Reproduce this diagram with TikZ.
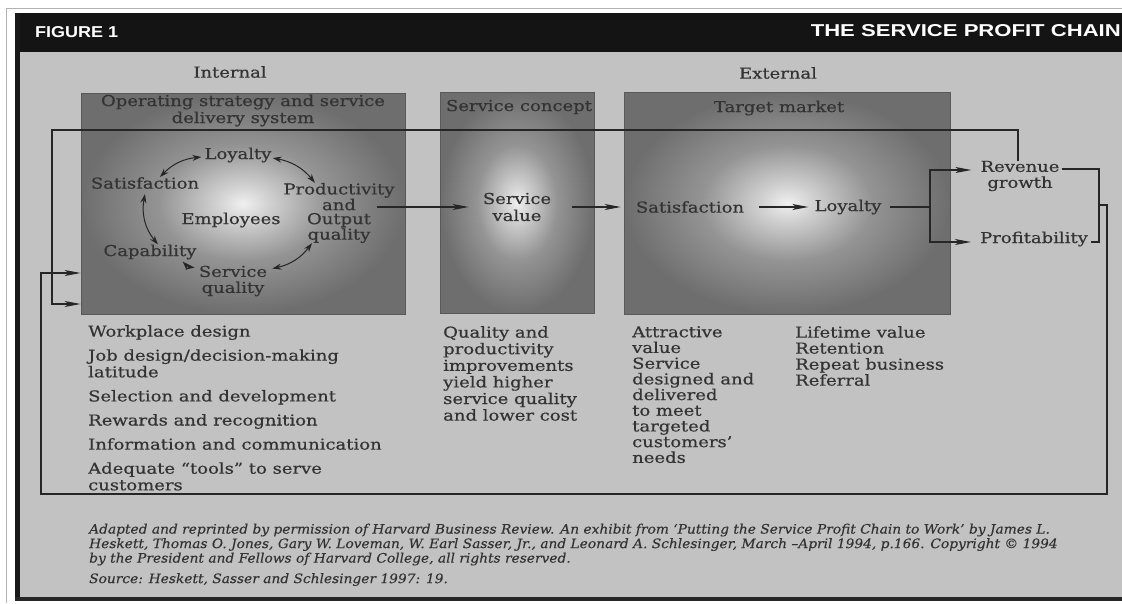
\documentclass[tikz,border=0pt]{standalone}
\usepackage{graphicx}
\usepackage{fontspec}
\setmainfont{DejaVu Serif}[FakeStretch=1.2,FakeBold=0.5]
\newfontfamily\headfont{Liberation Sans}
\newfontfamily\footfont{DejaVu Serif}[Ligatures=TeX,FakeStretch=1.06,FakeBold=0.3]
\usetikzlibrary{arrows.meta}
\definecolor{panelgray}{gray}{0.76}
\definecolor{glowA}{gray}{0.94}
\definecolor{glowB}{gray}{0.82}
\definecolor{glowC}{gray}{0.58}
\definecolor{glowD}{gray}{0.43}
\definecolor{inkgray}{gray}{0.2}
\pgfdeclareradialshading{glow}{\pgfpoint{0bp}{0bp}}{color(0bp)=(glowA); color(4bp)=(glowB); color(13bp)=(glowC); color(25bp)=(glowD); color(50bp)=(glowD)}
\begin{document}
\begin{tikzpicture}[x=1pt,y=-1pt,
 every node/.style={inner sep=0pt,text=inkgray},
 body/.style={font=\fontsize{15}{16.6}\selectfont},
 lst/.style={body,align=left,anchor=north west},
 box/.style={draw=black!65,line width=0.8pt,shade,shading=glow},
 wire/.style={draw=black!85,line width=1.1pt},
 arr/.style={wire,-{Stealth[length=16pt,width=6pt,inset=4pt]}},
 cyc/.style={draw=black!85,line width=1pt,{Stealth[length=9pt,width=6pt]}-{Stealth[length=9pt,width=6pt]}}
]
\useasboundingbox (0,0) rectangle (1122,603);
\fill[white] (0,0) rectangle (1122,603);
\draw[black!30,line width=1pt] (6,603) -- (6,8) -- (1122,8);
\fill[panelgray] (15,52) rectangle (1122,599);
\fill[black!92] (15,13) rectangle (1122,52);
\fill[black!90] (15,13) rectangle (20,601);
\fill[black!85] (15,597) rectangle (1122,601);

% header
\node[anchor=west,text=white] (fig) at (35,32.5) {\resizebox{83pt}{11pt}{\headfont\bfseries FIGURE 1}};
\node[anchor=east,text=white] (ttl) at (1121,31) {\resizebox{310pt}{12pt}{\headfont\bfseries THE SERVICE PROFIT CHAIN}};

% boxes
\node[box,minimum width=324pt,minimum height=221pt] (b1) at (243,203.5) {};
\node[box,minimum width=154pt,minimum height=221pt] (b2) at (517,202.5) {};
\node[box,minimum width=326pt,minimum height=222pt] (b3) at (787,203) {};

% titles
\node[body] (int) at (230,72) {Internal};
\node[body] (ext) at (778,73) {External};
\node[body,align=center,font=\fontsize{15}{17}\selectfont] (t1) at (243,110.5) {Operating strategy and service\\delivery system};
\node[body] (t2) at (519,107) {Service concept};
\node[body] (t3) at (779,108) {Target market};

% cycle
\node[body] (loy) at (238,155) {Loyalty};
\node[body] (sat) at (145,183) {Satisfaction};
\node[body,align=center,font=\fontsize{15}{14}\selectfont] (prod) at (339,213) {Productivity\\and\\Output\\quality};
\node[body] (emp) at (231,220) {Employees};
\node[body] (cap) at (150,252) {Capability};
\node[body,align=center,font=\fontsize{15}{16}\selectfont] (sq) at (233,281) {Service\\quality};

\draw[cyc] ([xshift=-3pt,yshift=-2pt]loy.west) to[bend right=20] ([xshift=15pt]sat.north);
\draw[cyc] ([xshift=1pt,yshift=-3pt]loy.east) to[bend left=20] ([xshift=-24pt]prod.north);
\draw[cyc] ([yshift=-5pt]sat.south) to[bend right=25] ([xshift=8pt]cap.north);
\draw[cyc] ([xshift=-14pt,yshift=-2pt]cap.south east) to[bend right=20] ([xshift=-4pt,yshift=-2pt]sq.north west);
\draw[cyc] ([xshift=5pt,yshift=-3pt]sq.north east) to[bend right=20] ([xshift=-27pt]prod.south);

% chain
\node[body,align=center,font=\fontsize{15}{17}\selectfont] (sv) at (517,207) {Service\\value};
\node[body] (sat2) at (690,207) {Satisfaction};
\node[body] (loy2) at (848,207) {Loyalty};
\node[body,align=center,font=\fontsize{15}{16}\selectfont] (rev) at (1020,176) {Revenue\\growth};
\node[body] (prof) at (1034,239) {Profitability};

\draw[arr,shorten >=14pt] ([xshift=-18pt,yshift=6pt]prod.east) -- (sv.west);
\draw[arr,shorten <=21pt,shorten >=15pt] (sv.east) -- (sat2.west);
\draw[arr,shorten <=15pt,shorten >=6pt] (sat2.east) -- (loy2.west);

\coordinate (fork) at (930,207);
\draw[wire,shorten <=8pt] (loy2.east) -- (fork);
\draw[arr,shorten >=9pt] (fork) |- ([yshift=6pt]rev.west);
\draw[arr,shorten >=9pt] (fork) |- ([yshift=-3pt]prof.west);

\coordinate (rb) at (1099,205);
\draw[wire] ([yshift=7pt,xshift=2pt]rev.east) -| (rb) |- ([yshift=-3pt,xshift=3pt]prof.east);

\coordinate (br) at (1107,494);
\coordinate (bl) at (41,494);
\draw[arr] (rb) -| (br) -- (bl) |- ([yshift=-69.5pt]b1.west);

\coordinate (tl) at (52,130);
\draw[arr] ([xshift=-2pt]rev.north) |- (tl) |- ([yshift=-100.5pt]b1.west);

% lists
\node[lst] (l1) at (88,325) {Workplace design\\[7.5pt] Job design/decision-making\\latitude\\[7.5pt] Selection and development\\[7.5pt] Rewards and recognition\\[7.5pt] Information and communication\\[7.5pt] Adequate ``tools'' to serve\\customers};
\node[lst] (l2) at (443,326) {Quality and\\productivity\\improvements\\yield higher\\service quality\\and lower cost};
\node[lst,font=\fontsize{15}{15.7}\selectfont] (l3) at (632,326) {Attractive\\value\\Service\\designed and\\delivered\\to meet\\targeted\\customers'\\needs};
\node[lst,font=\fontsize{15}{16}\selectfont] (l4) at (795,326) {Lifetime value\\Retention\\Repeat business\\Referral};

% footer
\node[anchor=north west,align=left,text=black!80,font=\footfont\itshape\fontsize{13}{14.5}\selectfont] (fn) at (89,523.5) {Adapted and reprinted by permission of Harvard Business Review. An exhibit from `Putting the Service Profit Chain to Work' by James L.\\Heskett, Thomas O. Jones, Gary W. Loveman, W. Earl Sasser, Jr., and Leonard A. Schlesinger, March --April 1994, p.166. Copyright \textcopyright{} 1994\\by the President and Fellows of Harvard College, all rights reserved.};
\node[anchor=north west,text=black!80,font=\footfont\itshape\fontsize{13}{14.5}\selectfont] (src) at (89,573) {Source: Heskett, Sasser and Schlesinger 1997: 19.};
\end{tikzpicture}
\end{document}
